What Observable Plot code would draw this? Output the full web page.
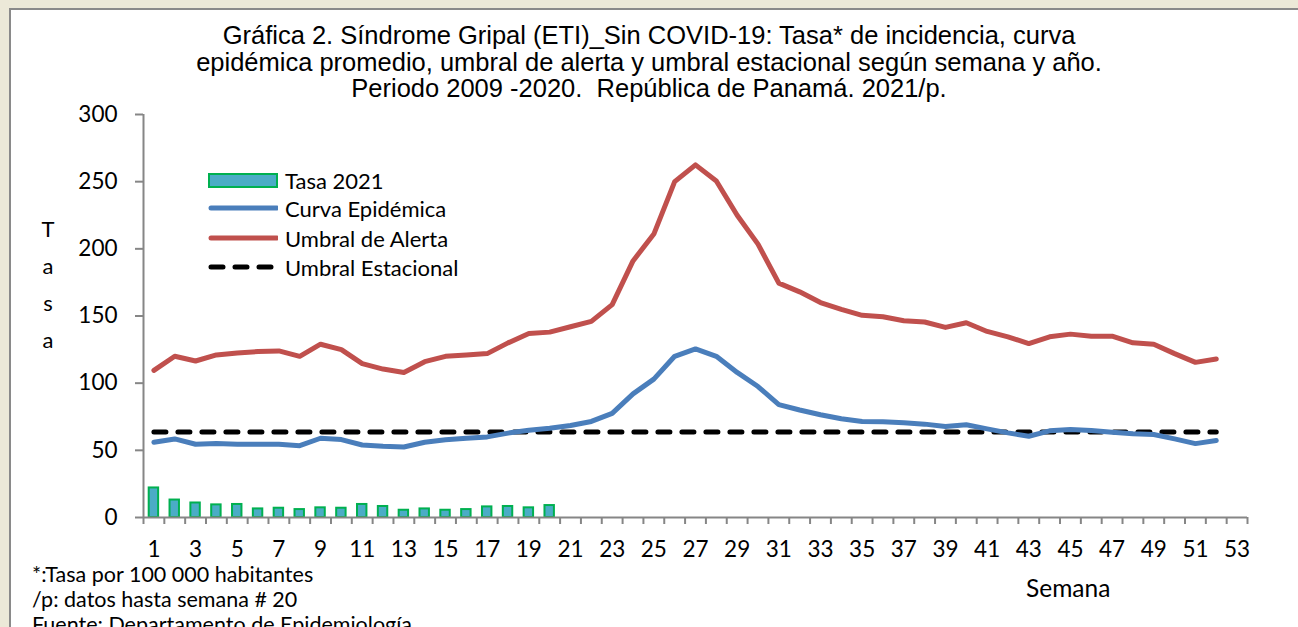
<!DOCTYPE html>
<html>
<head>
<meta charset="utf-8">
<script src="https://cdn.jsdelivr.net/npm/d3@7"></script>
<script src="https://cdn.jsdelivr.net/npm/@observablehq/plot@0.6"></script>
<style>
  html, body { margin: 0; padding: 0; }
  body { width: 1298px; height: 627px; overflow: hidden; background: #ECE9D8; position: relative; font-family: Lato, "Open Sans", sans-serif; }
  #panel { position: absolute; left: 9px; top: 8px; width: 1300px; height: 640px; background: #fff; border-left: 2px solid #8a8a8a; border-top: 2px solid #8a8a8a; }
  #title { position: absolute; left: 0; top: 22px; width: 1298px; text-align: center; font-family: "Liberation Sans", Arial, sans-serif; font-size: 25.5px; line-height: 26.5px; color: #000; }
  #chart { position: absolute; left: 0; top: 90px; }
  .abs { position: absolute; color: #000; white-space: nowrap; }
  #legend .item { position: absolute; left: 208px; height: 20px; }
  #legend .sw { position: absolute; left: 0; width: 70px; }
  #legend .lab { position: absolute; left: 77px; top: -4px; font-size: 22px; line-height: 26px; white-space: nowrap; }
  #ylab { left: 38px; top: 210px; width: 20px; text-align: center; font-size: 22px; line-height: 37px; }
  #foot { left: 32px; top: 562px; font-size: 21.5px; line-height: 25px; }
</style>
</head>
<body>
<div id="panel"></div>
<div id="title">Gráfica 2. Síndrome Gripal (ETI)_Sin COVID-19: Tasa* de incidencia, curva<br>epidémica promedio, umbral de alerta y umbral estacional según semana y año.<br>Periodo 2009 -2020.&nbsp; República de Panamá. 2021/p.</div>
<div id="chart"></div>
<div id="ylab" class="abs">T<br>a<br>s<br>a</div>
<div class="abs" style="left:1026px; top:574px; font-size:24.5px; line-height:28px;">Semana</div>
<div id="foot" class="abs">*:Tasa por 100 000 habitantes<br>/p: datos hasta semana # 20<br>Fuente: Departamento de Epidemiología</div>
<div id="legend"></div>
<script>
// ---- Data ----
const semanas = [1,2,3,4,5,6,7,8,9,10,11,12,13,14,15,16,17,18,19,20,21,22,23,24,25,26,27,28,29,30,31,32,33,34,35,36,37,38,39,40,41,42,43,44,45,46,47,48,49,50,51,52];
const semanasTasa = [1,2,3,4,5,6,7,8,9,10,11,12,13,14,15,16,17,18,19,20];
const tasa2021 = [22,13,10.8,9.4,9.7,6.4,6.9,5.9,7.2,6.9,9.7,8.2,5.4,6.4,5.4,5.9,7.9,8.2,7.2,8.9];
const curvaEpidemica = [56,58.5,54.5,55,54.5,54.5,54.5,53.5,59,58,54,53,52.5,56,57.8,59,60,62.8,65,66.5,
  68.5,71.5,77.5,92,103,120,125.5,120,108,97.5,84,80,76.5,73.5,71.5,71.3,70.5,69.5,67.8,69,
  66,63,60.5,64.5,65.5,64.8,63.5,62.3,61.8,58.5,55,57.3];
const umbralAlerta = [109.5,120,116.5,121,122.5,123.5,124,120,129,125,114.5,110.5,108,116,120,121,122,130,137,138,
  142,146,158.5,191,211,250,262.5,250.5,225,203.5,174.5,168,160,155,150.5,149.5,146.5,145.5,141.5,145,
  138.5,134.5,129.5,134.5,136.5,135,135,130,129,122,115.5,118];
const umbralEstacional = [63.7,63.7,63.7,63.7,63.7,63.7,63.7,63.7,63.7,63.7,63.7,63.7,63.7,63.7,63.7,63.7,63.7,63.7,63.7,63.7,
  63.7,63.7,63.7,63.7,63.7,63.7,63.7,63.7,63.7,63.7,63.7,63.7,63.7,63.7,63.7,63.7,63.7,63.7,63.7,63.7,
  63.7,63.7,63.7,63.7,63.7,63.7,63.7,63.7,63.7,63.7,63.7,63.7];
const yTicks = [0,50,100,150,200,250,300];
const xTickLabels = [1,3,5,7,9,11,13,15,17,19,21,23,25,27,29,31,33,35,37,39,41,43,45,47,49,51,53];
const xCategoryCount = 53;
const series = [
  {name: "Tasa 2021", type: "bar"},
  {name: "Curva Epidémica", type: "line", color: "#4A7EBB"},
  {name: "Umbral de Alerta", type: "line", color: "#C0504D"},
  {name: "Umbral Estacional", type: "dash", color: "#000"}
];

// ---- Tables ----
const barRows = semanasTasa.map((s, i) => ({s, v: tasa2021[i]}));
const curvaRows = semanas.map((s, i) => ({s, v: curvaEpidemica[i]}));
const alertaRows = semanas.map((s, i) => ({s, v: umbralAlerta[i]}));
const estRows = semanas.map((s, i) => ({s, v: umbralEstacional[i]}));
const boundaries = d3.range(0.5, xCategoryCount + 1, 1);

const axisGrey = "#868686";
const chart = Plot.plot({
  width: 1298,
  height: 480,
  marginLeft: 143,
  marginRight: 51,
  marginTop: 24,
  marginBottom: 53,
  style: {background: "transparent", fontFamily: "Lato, 'Open Sans', sans-serif", color: "#000", overflow: "visible"},
  x: {type: "linear", domain: [0.5, xCategoryCount + 0.5]},
  y: {domain: [0, 300]},
  marks: [
    Plot.rectY(barRows, {x1: d => d.s - 0.5, x2: d => d.s + 0.5, y: "v", insetLeft: 5.7, insetRight: 5.7,
      fill: "#4BACC6", stroke: "#00B050", strokeWidth: 2}),
    Plot.lineY(estRows, {x: "s", y: "v", stroke: "#000", strokeWidth: 5, strokeDasharray: "12,12", strokeLinecap: "round"}),
    Plot.lineY(curvaRows, {x: "s", y: "v", stroke: "#4A7EBB", strokeWidth: 5, strokeLinejoin: "round"}),
    Plot.lineY(alertaRows, {x: "s", y: "v", stroke: "#C0504D", strokeWidth: 5, strokeLinejoin: "round"}),
    Plot.ruleX([0.5], {stroke: axisGrey, strokeWidth: 2}),
    Plot.ruleY([0], {stroke: axisGrey, strokeWidth: 2}),
    Plot.axisY({ticks: yTicks, tickSize: 8, tickPadding: 18, stroke: axisGrey, strokeWidth: 2, fontSize: 22.5, label: null, tickFormat: d => String(d)}),
    Plot.axisX({ticks: boundaries, tickSize: 7, stroke: axisGrey, strokeWidth: 2, tickFormat: () => "", label: null}),
    Plot.axisX({ticks: xTickLabels, tickSize: 0, tickPadding: 24, fontSize: 22.5, label: null, tickFormat: d => String(d)})
  ]
});
document.getElementById("chart").appendChild(chart);

// ---- Legend ----
const legend = document.getElementById("legend");
const legendTops = [172, 200, 230, 259];
series.forEach((s, i) => {
  const item = document.createElement("div");
  item.className = "item";
  item.style.top = legendTops[i] + "px";
  let sw;
  if (s.type === "bar") {
    sw = `<div class="sw" style="top:1px;height:11px;background:#4BACC6;border:2px solid #00B050;width:66px;"></div>`;
  } else if (s.type === "line") {
    sw = `<svg class="sw" style="top:4px" width="72" height="8"><line x1="3" y1="4" x2="69" y2="4" stroke="${s.color}" stroke-width="5" stroke-linecap="round"/></svg>`;
  } else {
    sw = `<svg class="sw" style="top:4px" width="72" height="8"><line x1="3" y1="4" x2="69" y2="4" stroke="${s.color}" stroke-width="5" stroke-linecap="round" stroke-dasharray="12,12"/></svg>`;
  }
  item.innerHTML = sw + `<div class="lab">${s.name}</div>`;
  legend.appendChild(item);
});
</script>
</body>
</html>
